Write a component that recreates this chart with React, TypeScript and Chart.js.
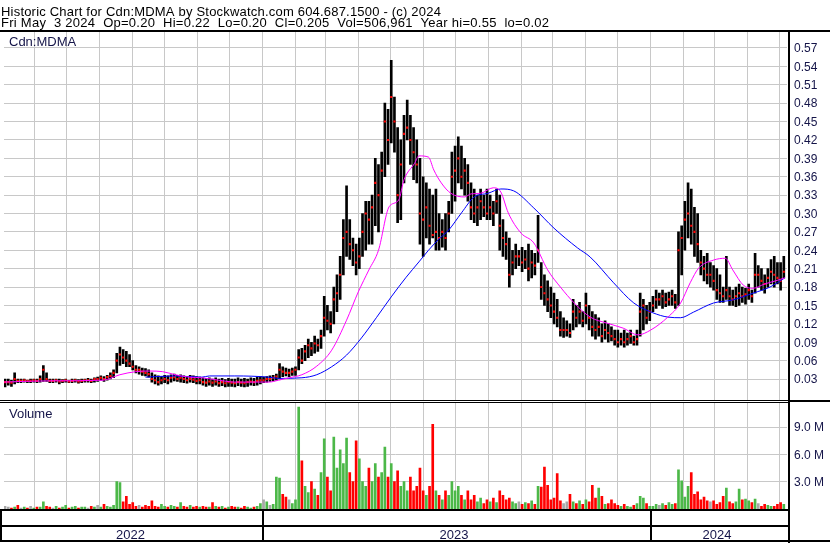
import React, { useEffect, useRef } from "react";
import { Chart, registerables } from "chart.js";
Chart.register(...registerables);

// ---- data ----
const TITLE = "Historic Chart for Cdn:MDMA by Stockwatch.com 604.687.1500 - (c) 2024";
const SUBTITLE = "Fri May  3 2024  Op=0.20  Hi=0.22  Lo=0.20  Cl=0.205  Vol=506,961  Year hi=0.55  lo=0.02";
const SYMBOL = "Cdn:MDMA";
const VOLUME_LABEL = "Volume";
const YEARS = ["2022", "2023", "2024"];
const START = new Date(2022, 4, 3); // first session shown
const SLOT_DAYS = 3; // each bar summarises ~3 calendar days

const HIGH = [
  .030,.030,.028,.040,.030,.030,.030,.028,.030,.030,
  .030,.035,.052,.040,.030,.030,.030,.030,.029,.030,
  .028,.030,.030,.029,.030,.030,.031,.030,.032,.033,
  .035,.034,.036,.040,.045,.072,.082,.078,.075,.070,
  .060,.052,.050,.048,.047,.045,.040,.037,.035,.034,
  .036,.035,.037,.038,.036,.037,.035,.034,.036,.035,
  .034,.033,.032,.031,.032,.030,.032,.030,.031,.029,
  .031,.030,.030,.032,.030,.031,.030,.032,.031,.033,
  .034,.033,.034,.035,.036,.038,.055,.050,.048,.046,
  .048,.050,.078,.080,.085,.095,.090,.100,.095,.110,
  .165,.150,.140,.180,.200,.230,.290,.345,.290,.260,
  .250,.260,.300,.320,.320,.330,.390,.380,.400,.480,
  .470,.550,.490,.440,.420,.460,.485,.460,.440,.420,
  .390,.360,.350,.340,.330,.340,.300,.290,.300,.320,
  .400,.410,.425,.410,.390,.380,.350,.340,.330,.340,
  .330,.340,.330,.320,.340,.330,.290,.270,.260,.240,
  .250,.240,.245,.240,.250,.240,.235,.297,.220,.200,
  .190,.180,.170,.160,.140,.130,.125,.120,.160,.150,
  .155,.140,.170,.150,.140,.135,.130,.120,.125,.120,
  .115,.110,.110,.105,.110,.105,.110,.100,.110,.170,
  .160,.150,.155,.165,.175,.170,.175,.170,.172,.175,
  .168,.270,.280,.320,.350,.340,.310,.300,.240,.230,
  .235,.220,.215,.210,.200,.180,.230,.180,.175,.180,
  .185,.180,.178,.185,.175,.235,.215,.210,.200,.210,
  .225,.230,.220,.220,.230,
];
const LOW = [
  .017,.020,.018,.022,.024,.024,.025,.024,.024,.025,
  .024,.025,.026,.026,.024,.024,.025,.022,.024,.025,
  .024,.024,.025,.023,.024,.025,.025,.024,.025,.026,
  .028,.026,.028,.030,.032,.040,.052,.055,.050,.050,
  .045,.040,.038,.036,.035,.033,.025,.022,.020,.022,
  .024,.022,.025,.027,.026,.025,.024,.023,.025,.024,
  .022,.022,.020,.018,.020,.018,.020,.018,.019,.017,
  .018,.018,.017,.019,.018,.017,.018,.020,.019,.020,
  .022,.024,.025,.026,.027,.028,.030,.034,.035,.034,
  .036,.036,.045,.055,.060,.065,.068,.072,.075,.080,
  .100,.110,.105,.120,.140,.160,.200,.230,.225,.215,
  .200,.210,.230,.240,.250,.250,.280,.270,.300,.360,
  .380,.415,.400,.285,.290,.350,.420,.380,.355,.350,
  .250,.230,.260,.250,.260,.240,.240,.245,.240,.270,
  .300,.320,.350,.340,.330,.320,.290,.285,.280,.290,
  .295,.290,.290,.280,.300,.240,.230,.225,.180,.200,
  .210,.215,.205,.210,.190,.195,.200,.220,.160,.150,
  .140,.130,.120,.115,.100,.098,.100,.098,.110,.115,
  .120,.115,.120,.110,.100,.095,.100,.090,.095,.090,
  .092,.085,.082,.085,.082,.085,.088,.085,.085,.100,
  .110,.120,.125,.140,.145,.150,.145,.148,.150,.150,
  .145,.150,.200,.240,.260,.250,.230,.220,.200,.190,
  .185,.180,.175,.160,.155,.155,.160,.150,.150,.148,
  .150,.155,.152,.160,.155,.170,.180,.175,.170,.180,
  .185,.180,.185,.175,.195,
];
const CLOSE = [
  .025,.025,.024,.030,.027,.027,.028,.027,.027,.028,
  .027,.030,.045,.030,.027,.027,.028,.026,.027,.028,
  .026,.027,.028,.026,.027,.028,.028,.027,.030,.030,
  .032,.030,.033,.035,.040,.060,.070,.065,.060,.055,
  .050,.045,.045,.042,.040,.038,.030,.028,.025,.028,
  .030,.028,.032,.033,.030,.032,.030,.028,.030,.029,
  .027,.028,.025,.024,.026,.024,.026,.023,.025,.023,
  .025,.024,.023,.025,.024,.023,.025,.026,.025,.027,
  .028,.028,.030,.030,.032,.034,.045,.042,.040,.040,
  .042,.045,.065,.060,.075,.085,.080,.088,.085,.100,
  .130,.125,.120,.160,.170,.200,.260,.270,.250,.240,
  .220,.230,.270,.300,.290,.310,.350,.330,.370,.450,
  .420,.490,.450,.330,.380,.430,.440,.420,.400,.380,
  .300,.290,.310,.280,.265,.270,.260,.270,.260,.300,
  .360,.370,.390,.360,.370,.350,.310,.300,.310,.320,
  .310,.300,.310,.300,.320,.280,.260,.250,.200,.220,
  .230,.230,.220,.225,.210,.220,.215,.240,.180,.170,
  .160,.150,.140,.130,.110,.110,.110,.105,.140,.130,
  .140,.125,.150,.130,.115,.110,.115,.100,.110,.105,
  .100,.095,.090,.095,.090,.095,.100,.090,.095,.140,
  .150,.130,.140,.150,.160,.160,.165,.155,.160,.165,
  .155,.240,.260,.290,.300,.280,.270,.250,.220,.210,
  .200,.200,.190,.175,.170,.165,.175,.165,.160,.165,
  .170,.165,.168,.175,.165,.200,.200,.190,.185,.195,
  .205,.200,.195,.190,.205,
];
// volume in millions of shares
const VOLUME = [
  .3,.2,.1,.2,.4,.1,.2,.1,.3,.1,
  .2,.2,.8,.3,.2,.1,.3,.1,.2,.4,
  .1,.2,.3,.1,.2,.2,.1,.3,.2,.4,
  .2,.5,.3,.2,.4,3.0,2.9,.8,1.4,.5,
  .7,.3,.4,.2,.4,.3,.9,.3,.2,.5,
  .3,.2,.4,.3,.2,.7,.3,.2,.4,.2,
  .3,.2,.3,.2,.2,.7,.3,.2,.3,.1,
  .2,.3,.2,.2,.1,.3,.2,.1,.2,.3,
  .6,1.0,.8,.4,.5,3.5,3.4,1.6,1.3,1.0,
  .6,1.0,11.2,5.3,2.5,1.8,3.0,2.2,1.5,4.0,
  7.7,3.5,2.0,7.9,4.5,6.5,5.0,7.8,4.0,3.0,
  7.5,5.5,3.0,2.5,4.5,3.0,5.0,3.5,4.0,6.8,
  3.5,5.0,3.0,4.2,2.5,3.0,2.0,3.5,2.0,2.5,
  4.5,2.0,1.5,2.5,9.3,2.0,1.5,1.0,2.0,1.5,
  3.0,2.0,2.5,1.5,1.0,2.0,1.0,1.5,.8,1.2,
  .6,1.0,.8,1.2,.7,2.0,1.5,1.0,1.2,.8,
  .6,.8,.5,.7,.6,.9,.5,2.5,2.4,4.6,
  2.6,1.0,1.2,3.9,.9,.6,.8,1.6,.8,.6,
  .9,.5,1.0,.8,2.6,1.2,2.3,1.4,.5,.6,
  1.0,.6,.4,.3,.5,.3,.2,.4,.6,1.4,
  1.2,.6,.3,.3,.5,.4,.6,.4,.7,.5,
  .6,4.3,3.1,1.3,2.5,4.0,1.6,1.9,1.0,1.3,
  .9,.8,.9,.5,.7,1.4,2.3,.8,.6,.8,
  2.2,1.0,1.1,.9,.7,1.1,.6,.3,.5,.4,
  .3,.3,.5,.7,.5,
];

// moving averages: day offset from START and value
const MA_FAST_DAY = [0,43,93,109,124,137,149,161,174,186,202,217,236,249,258,268,280,294,308,322,333,343,352,362,371,376,386,390,399,404,411,420,433,439,448,460,467,474,486,498,511,523,536,551,567,582,596,608,624,636,645,653,667,678,685,695,704,715,725,734];
const MA_FAST = [.025,.027,.028,.037,.042,.043,.042,.037,.033,.032,.028,.025,.025,.025,.028,.032,.037,.051,.077,.126,.172,.208,.240,.311,.322,.355,.382,.394,.392,.371,.350,.333,.327,.332,.333,.342,.335,.301,.268,.252,.208,.180,.154,.131,.121,.113,.102,.110,.131,.154,.187,.211,.224,.227,.208,.183,.178,.185,.190,.195];
const MA_SLOW_DAY = [133,161,186,193,217,249,258,280,294,308,322,336,350,364,378,390,399,408,418,430,442,455,467,479,498,517,539,551,573,592,610,624,636,648,667,685,704,720,734];
const MA_SLOW = [.033,.035,.033,.035,.035,.033,.031,.032,.037,.050,.069,.097,.130,.164,.196,.221,.240,.257,.273,.301,.327,.333,.340,.337,.309,.276,.244,.229,.187,.154,.138,.131,.130,.139,.154,.159,.170,.180,.195];

const PRICE_TICKS = [0.03,0.06,0.09,0.12,0.15,0.18,0.21,0.24,0.27,0.30,0.33,0.36,0.39,0.42,0.45,0.48,0.51,0.54,0.57];
const VOLUME_TICKS = [3, 6, 9];

// ---- styles ----
const FONT = "'Liberation Sans', Arial, sans-serif";
const AXIS_TEXT = "#141448";
const GRID = "#c8c8c8";
const UP = "#4cb848";
const DOWN = "#ff0000";
const FLAT = "#a8a8a8";

const dayOf = (y: number, m: number, d: number) =>
  Math.round((new Date(y, m, d).getTime() - START.getTime()) / 86400000);

export default function App() {
  const ref = useRef<HTMLCanvasElement>(null);
  useEffect(() => {
    document.body.style.margin = "0";
    const canvas = ref.current!;
    const barDay = HIGH.map((_, i) => 1 + i * SLOT_DAYS);
    const monthDays: number[] = [];
    for (let k = 1; k <= 24; k++) monthDays.push(dayOf(2022, 4 + k, 1));
    const yearStarts = [dayOf(2023, 0, 1), dayOf(2024, 0, 1)];
    const volColors = VOLUME.map((_, i) =>
      i === 0 ? FLAT : CLOSE[i] > CLOSE[i - 1] ? UP : CLOSE[i] < CLOSE[i - 1] ? DOWN : FLAT
    );

    const frame = {
      id: "frame",
      beforeDraw(c: any) {
        const ctx = c.ctx;
        ctx.save();
        ctx.fillStyle = "#fff";
        ctx.fillRect(0, 0, c.width, c.height);
        ctx.restore();
      },
      afterDraw(c: any) {
        const ctx = c.ctx;
        const a = c.chartArea;
        const xs = c.scales.x;
        const W = c.width;
        const split = c.scales.yPrice.bottom;
        ctx.save();
        // panel separator
        ctx.fillStyle = "#fff";
        ctx.fillRect(0, Math.round(split) - 2, a.right + 1, 3);
        ctx.fillStyle = "#000";
        ctx.fillRect(0, Math.round(split) - 2, a.right + 1, 1);
        ctx.fillRect(0, Math.round(split), a.right + 1, 1);
        ctx.fillRect(a.right + 3, Math.round(split) - 2, W, 2);
        // frame
        ctx.fillRect(0, 30, W, 2);
        ctx.fillRect(a.right + 1, 30, 2, c.height - 30);
        ctx.fillRect(0, a.bottom, a.right + 1, 2);
        ctx.fillRect(0, a.bottom + 16, a.right + 1, 2);
        ctx.fillRect(0, a.bottom + 31, W, 2);
        ctx.fillRect(0, a.bottom, 2, 33);
        const bounds = [a.left - 1, ...yearStarts.map((d) => Math.round(xs.getPixelForValue(d)) - 1), a.right + 1];
        for (let i = 1; i < bounds.length - 1; i++) ctx.fillRect(bounds[i], a.bottom, 2, 33);
        // texts
        ctx.font = `13px ${FONT}`;
        ctx.textBaseline = "alphabetic";
        ctx.textAlign = "left";
        ctx.fillStyle = "#000";
        ctx.letterSpacing = "0.2px";
        ctx.fillText(TITLE, 1, 16);
        ctx.letterSpacing = "0.27px";
        ctx.fillText(SUBTITLE, 1, 27);
        ctx.letterSpacing = "0px";
        ctx.fillStyle = AXIS_TEXT;
        ctx.fillText(SYMBOL, 9, 46);
        ctx.fillText(VOLUME_LABEL, 9, Math.round(split) + 16);
        ctx.textAlign = "center";
        YEARS.forEach((y, i) => {
          ctx.fillText(y, (bounds[i] + bounds[i + 1]) / 2 - 2, a.bottom + 30);
        });
        ctx.restore();
      },
    };

    const chart = new Chart(canvas, {
      type: "bar",
      data: {
        datasets: [
          {
            type: "line",
            label: "MA fast",
            data: MA_FAST_DAY.map((d, i) => ({ x: d, y: MA_FAST[i] })),
            yAxisID: "yPrice",
            borderColor: "#ff00ff",
            borderWidth: 1,
            pointRadius: 0,
            cubicInterpolationMode: "monotone",
            order: 0,
          },
          {
            type: "line",
            label: "MA slow",
            data: MA_SLOW_DAY.map((d, i) => ({ x: d, y: MA_SLOW[i] })),
            yAxisID: "yPrice",
            borderColor: "#0000ff",
            borderWidth: 1,
            pointRadius: 0,
            cubicInterpolationMode: "monotone",
            order: 0,
          },
          {
            type: "line",
            label: "Close",
            data: barDay.map((d, i) => ({ x: d, y: CLOSE[i] })),
            yAxisID: "yPrice",
            showLine: false,
            pointStyle: "rect",
            pointRadius: 1.5,
            pointBorderWidth: 0,
            pointBackgroundColor: "#ff0000",
            order: 1,
          },
          {
            type: "bar",
            label: "Range",
            data: barDay.map((d, i) => ({ x: d, y: [LOW[i], HIGH[i]] })),
            yAxisID: "yPrice",
            backgroundColor: "#000",
            barThickness: 2,
            grouped: false,
            order: 2,
          },
          {
            type: "bar",
            label: "Volume",
            data: barDay.map((d, i) => ({ x: d, y: VOLUME[i] })),
            yAxisID: "yVol",
            backgroundColor: volColors,
            barThickness: 2,
            grouped: false,
            order: 3,
          },
        ] as any,
      },
      options: {
        responsive: false,
        animation: false,
        devicePixelRatio: 1,
        events: [],
        layout: { padding: { left: 1, top: 32, right: 0, bottom: 34 } },
        plugins: { legend: { display: false }, tooltip: { enabled: false } },
        scales: {
          x: {
            type: "linear",
            min: 0,
            max: 736,
            offset: false,
            afterBuildTicks: (s: any) => {
              s.ticks = monthDays.map((v) => ({ value: v }));
            },
            afterFit: (s: any) => {
              s.height = 0;
            },
            ticks: { display: false },
            grid: { color: GRID, drawTicks: false, lineWidth: 1, offset: false },
            border: { display: false },
          },
          yPrice: {
            type: "linear",
            position: "right",
            stack: "main",
            stackWeight: 369.5,
            min: -0.0067,
            max: 0.5961,
            afterBuildTicks: (s: any) => {
              s.ticks = PRICE_TICKS.map((v) => ({ value: v }));
            },
            afterFit: (s: any) => {
              s.width = 43;
            },
            ticks: {
              autoSkip: false,
              padding: 7,
              labelOffset: 1,
              color: AXIS_TEXT,
              font: { family: FONT, size: 12 },
              callback: (v: any) => Number(v).toFixed(2),
            },
            grid: { color: GRID, drawTicks: false },
            border: { display: false },
          },
          yVol: {
            type: "linear",
            position: "right",
            stack: "main",
            stackWeight: 107.5,
            min: 0,
            max: 11.81,
            afterBuildTicks: (s: any) => {
              s.ticks = VOLUME_TICKS.map((v) => ({ value: v }));
            },
            afterFit: (s: any) => {
              s.width = 43;
            },
            ticks: {
              autoSkip: false,
              padding: 7,
              labelOffset: 1,
              color: AXIS_TEXT,
              font: { family: FONT, size: 12 },
              callback: (v: any) => Number(v).toFixed(1) + " M",
            },
            grid: { color: GRID, drawTicks: false },
            border: { display: false },
          },
        },
      } as any,
      plugins: [frame],
    });
    return () => chart.destroy();
  }, []);
  return <canvas ref={ref} width={830} height={543} style={{ display: "block" }} />;
}
